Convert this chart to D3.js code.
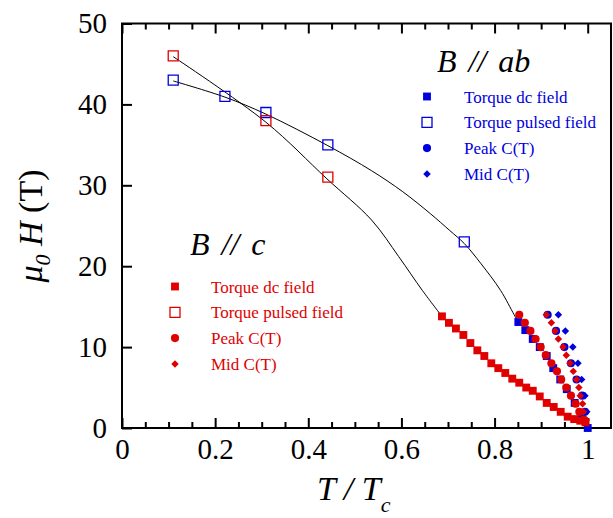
<!DOCTYPE html>
<html lang="en">
<head>
<meta charset="utf-8">
<title>Critical field vs T/Tc</title>
<script src="https://cdnjs.cloudflare.com/ajax/libs/d3/7.8.5/d3.min.js"></script>
<style>
  body { margin: 0; background: #fff; }
  text { font-family: "Liberation Serif", "Times New Roman", serif; }
</style>
</head>
<body>
<svg id="chart" width="613" height="518"></svg>
<script>
// values, [T/Tc, mu0 H in tesla]
const abPulsed = [[0.11,43],[0.221,41],[0.309,39],[0.442,35],[0.735,23]];
const cPulsed = [[0.11,46],[0.309,38],[0.442,31]];
const abDc = [[0.851,13.1],[0.866,12.1],[0.882,11],[0.897,10],[0.912,8.9],[0.926,7.4],
  [0.941,6],[0.955,4.8],[0.972,3.1],[0.987,1.5],[1.0,0]];
const cDc = [[0.687,13.8],[0.702,13],[0.717,12.3],[0.733,11.5],[0.748,10.5],[0.763,9.6],
  [0.778,8.9],[0.793,8],[0.808,7.4],[0.823,6.8],[0.838,6.1],[0.853,5.6],[0.868,5],
  [0.882,4.6],[0.897,3.9],[0.912,3.1],[0.927,2.6],[0.942,2],[0.957,1.4],[0.971,1.1],
  [0.984,0.9],[0.995,0.7]];
const cPeak = [[0.853,14],[0.865,13],[0.877,12],[0.888,11],[0.899,10],[0.910,9],[0.922,8],
  [0.934,7],[0.943,6],[0.954,5],[0.964,4],[0.974,3],[0.982,2],[0.992,1]];
const cMid = [[0.911,14],[0.922,13],[0.930,12],[0.937,11],[0.947,10],[0.954,9],[0.962,8],
  [0.969,7],[0.976,6],[0.981,5],[0.984,4],[0.989,3],[0.991,2],[0.997,1]];
const abPeak = [[0.914,14],[0.932,12],[0.950,10],[0.964,8],[0.976,6],[0.988,4],[0.994,2]];
const abMid = [[0.937,14],[0.952,12],[0.968,10],[0.979,8],[0.987,6],[0.994,4],[0.998,2]];
// guide lines drawn through the points
const abCurve = [[0.11,42.9],[0.221,40.9],[0.309,38.8],[0.442,34.9],[0.536,31.8],[0.603,29.2],
  [0.662,26.5],[0.704,24.4],[0.735,22.8],[0.771,20.3],[0.813,17],[0.842,14],[0.851,13.1]];
const cCurve = [[0.11,45.9],[0.309,37.8],[0.44,30.8],[0.536,25.7],[0.594,21.2],[0.645,17],[0.687,13.8]];

const xMajor = [0, 0.2, 0.4, 0.6, 0.8, 1];
const xMinor = d3.range(0.05, 1.05, 0.05).filter(v => Math.abs(v * 5 - Math.round(v * 5)) > 1e-6);
const yMajor = [0, 10, 20, 30, 40, 50];
const legendLabels = ["Torque dc field", "Torque pulsed field", "Peak C(T)", "Mid C(T)"];

const red = "#e00000", blue = "#0000dd";

const svg = d3.select("#chart");
const x = d3.scaleLinear().domain([0, 1.05]).range([122, 611]);
const y = d3.scaleLinear().domain([0, 50]).range([428, 23.5]);

// ticks (inward)
function tickStyle(g) {
  g.select(".domain").remove();
  g.selectAll("line").attr("stroke", "#000").attr("stroke-width", 2);
  g.selectAll("text").attr("font-size", 29).attr("fill", "#000");
}
svg.append("g").attr("transform", `translate(0,${y(0)})`)
  .call(d3.axisBottom(x).tickValues(xMajor).tickSize(-10).tickPadding(10).tickFormat(d3.format("")))
  .call(tickStyle);
svg.append("g").attr("transform", `translate(0,${y(0)})`)
  .call(d3.axisBottom(x).tickValues(xMinor).tickSize(-6).tickFormat(""))
  .call(tickStyle);
svg.append("g").attr("transform", `translate(0,${y(50)})`)
  .call(d3.axisTop(x).tickValues(xMajor).tickSize(-10).tickFormat(""))
  .call(tickStyle);
svg.append("g").attr("transform", `translate(0,${y(50)})`)
  .call(d3.axisTop(x).tickValues(xMinor).tickSize(-6).tickFormat(""))
  .call(tickStyle);
svg.append("g").attr("transform", `translate(${x(0)},0)`)
  .call(d3.axisLeft(y).tickValues(yMajor).tickSize(-10).tickPadding(15))
  .call(tickStyle);

svg.append("rect")
  .attr("x", x(0)).attr("y", y(50))
  .attr("width", x(1.05) - x(0)).attr("height", y(0) - y(50))
  .attr("fill", "none").attr("stroke", "#000").attr("stroke-width", 2);

// guide curves
const line = d3.line().x(d => x(d[0])).y(d => y(d[1])).curve(d3.curveCatmullRom.alpha(0.5));
[abCurve, cCurve].forEach(c => {
  svg.append("path").attr("d", line(c))
    .attr("fill", "none").attr("stroke", "#000").attr("stroke-width", 1);
});

const shapes = {
  square: d3.symbol().type(d3.symbolSquare).size(62),
  open: d3.symbol().type(d3.symbolSquare).size(100),
  circle: d3.symbol().type(d3.symbolCircle).size(52),
  diamond: d3.symbol().type(d3.symbolSquare).size(28)
};

function marker(g, kind, color) {
  const p = g.append("path").attr("d", shapes[kind]());
  if (kind === "open") p.attr("fill", "none").attr("stroke", color).attr("stroke-width", 1.3);
  else p.attr("fill", color);
  return p;
}

function plot(data, kind, color) {
  data.forEach(d => {
    const g = svg.append("g").attr("transform",
      `translate(${x(d[0])},${y(d[1])})` + (kind === "diamond" ? " rotate(45)" : ""));
    marker(g, kind, color);
  });
}

plot(abDc, "square", blue);
plot(cDc, "square", red);
plot(abPeak, "circle", blue);
plot(cPeak, "circle", red);
plot(abMid, "diamond", blue);
plot(cMid, "diamond", red);
plot(abPulsed, "open", blue);
plot(cPulsed, "open", red);

// legends
const kinds = ["square", "open", "circle", "diamond"];
function legend(title, tx, ty, mx, tx2, y0, color) {
  svg.append("text").attr("x", tx).attr("y", ty)
    .attr("font-size", 32).attr("font-style", "italic").attr("fill", "#000")
    .attr("word-spacing", 4).text(title);
  legendLabels.forEach((lab, i) => {
    const yy = y0 + i * 25.8;
    const g = svg.append("g").attr("transform",
      `translate(${mx},${yy})` + (kinds[i] === "diamond" ? " rotate(45)" : ""));
    marker(g, kinds[i], color);
    svg.append("text").attr("x", tx2).attr("y", yy + 6)
      .attr("font-size", 17).attr("fill", color).text(lab);
  });
}
legend("B // ab", 437, 72, 427, 464, 96.5, blue);
legend("B // c", 190, 255, 175, 211, 286.5, red);

// axis titles
const yt = svg.append("text")
  .attr("transform", "translate(42,226) rotate(-90)")
  .attr("text-anchor", "middle").attr("font-size", 34).attr("fill", "#000");
yt.append("tspan").attr("font-style", "italic").text("\u03bc");
yt.append("tspan").attr("font-style", "italic").attr("font-size", 22).attr("dy", 8).text("0");
yt.append("tspan").attr("font-style", "italic").attr("dy", -8).text(" H");
yt.append("tspan").text(" (T)");

const xt = svg.append("text")
  .attr("x", 317).attr("y", 500)
  .attr("font-size", 34).attr("font-style", "italic").attr("fill", "#000");
xt.append("tspan").text("T / T");
xt.append("tspan").attr("font-size", 22).attr("dy", 12).text("c");
</script>
</body>
</html>
